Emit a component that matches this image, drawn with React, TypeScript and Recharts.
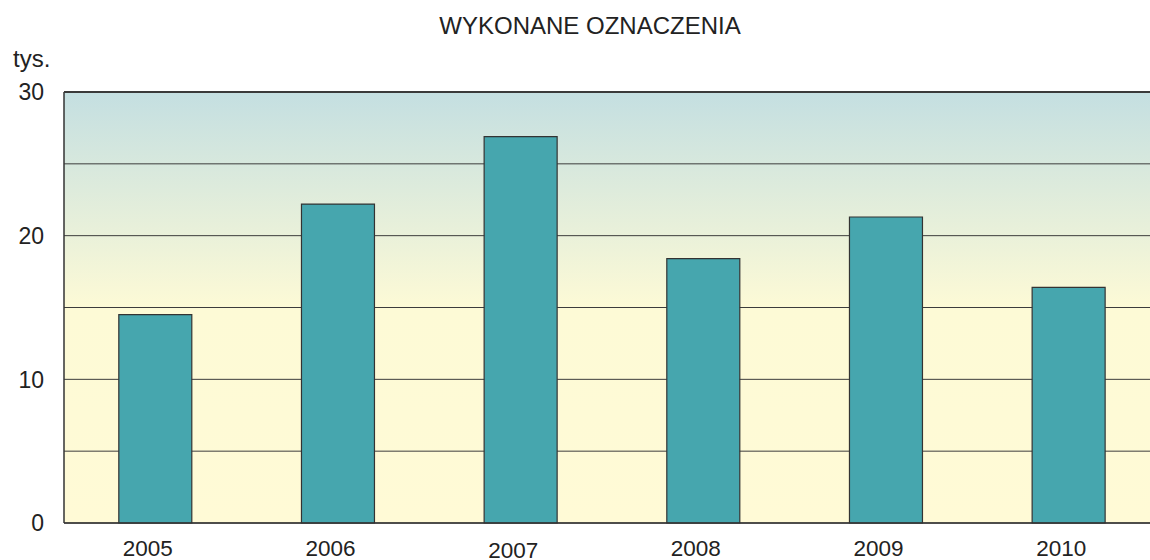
import React from 'react';
import { BarChart, Bar, XAxis, YAxis, CartesianGrid } from 'recharts';

const years = ['2005', '2006', '2007', '2008', '2009', '2010'];
const values = [14.5, 22.2, 26.9, 18.4, 21.3, 16.4];
const yTicks = [0, 5, 10, 15, 20, 25, 30];
const yLabelTicks = [0, 10, 20, 30];
const title = 'WYKONANE OZNACZENIA';
const unit = 'tys.';

const data = years.map((y, i) => ({ year: y, value: values[i] }));

const FONT = '"Liberation Sans", Arial, sans-serif';

const YTick = (props: any) => {
  const { x, y, payload } = props;
  if (!yLabelTicks.includes(payload.value)) return <g />;
  return (
    <text x={x} y={y} dy="0.36em" textAnchor="end" fontSize={23} fill="#222" fontFamily={FONT}>
      {payload.value}
    </text>
  );
};

const XTick = (props: any) => {
  const { x, y, payload, index } = props;
  const extra = index === 2 ? 2 : 0;
  return (
    <text x={x - 7.5} y={y + 31 + extra} textAnchor="middle" fontSize={22.5} fill="#222" fontFamily={FONT}>
      {payload.value}
    </text>
  );
};

export default function App() {
  return (
    <div style={{ position: 'absolute', left: 0, top: 0, width: 1150, height: 560, overflow: 'hidden', background: '#fff' }}>
      <BarChart
        width={1170}
        height={560}
        data={data}
        margin={{ top: 92, right: 10, bottom: 0, left: 0 }}
        barCategoryGap="30%"
      >
        <defs>
          <linearGradient id="bgGrad" x1="0" y1="0" x2="0" y2="1">
            <stop offset="0%" stopColor="#c4dfe1" />
            <stop offset="50%" stopColor="#fdfad6" />
            <stop offset="100%" stopColor="#fffad6" />
          </linearGradient>
        </defs>
        <CartesianGrid
          vertical={false}
          horizontal={true}
          fill="url(#bgGrad)"
          fillOpacity={1}
          stroke="#3c3c3c"
          strokeWidth={1}
        />
        <XAxis
          dataKey="year"
          height={37}
          tickSize={0}
          tickLine={false}
          axisLine={{ stroke: '#333', strokeWidth: 1.5 }}
          tick={<XTick />}
          interval={0}
        />
        <YAxis
          width={64}
          domain={[0, 30]}
          ticks={yTicks}
          tickSize={0}
          tickMargin={20}
          tickLine={false}
          axisLine={{ stroke: '#333', strokeWidth: 1.5 }}
          tick={<YTick />}
          interval={0}
        />
        <Bar dataKey="value" fill="#46a6ae" stroke="#333" strokeWidth={1.2} isAnimationActive={false} />
      </BarChart>
      <div style={{ position: 'absolute', left: 0, top: 14, width: 1180, textAlign: 'center', fontFamily: FONT, fontSize: 24, color: '#222', lineHeight: '24px' }}>
        {title}
      </div>
      <div style={{ position: 'absolute', left: 13, top: 47, fontFamily: FONT, fontSize: 24, color: '#222', lineHeight: '24px' }}>
        {unit}
      </div>
      <div style={{ position: 'absolute', left: 64, top: 91, width: 1100, height: 2, background: '#3a3a3a' }} />
    </div>
  );
}
